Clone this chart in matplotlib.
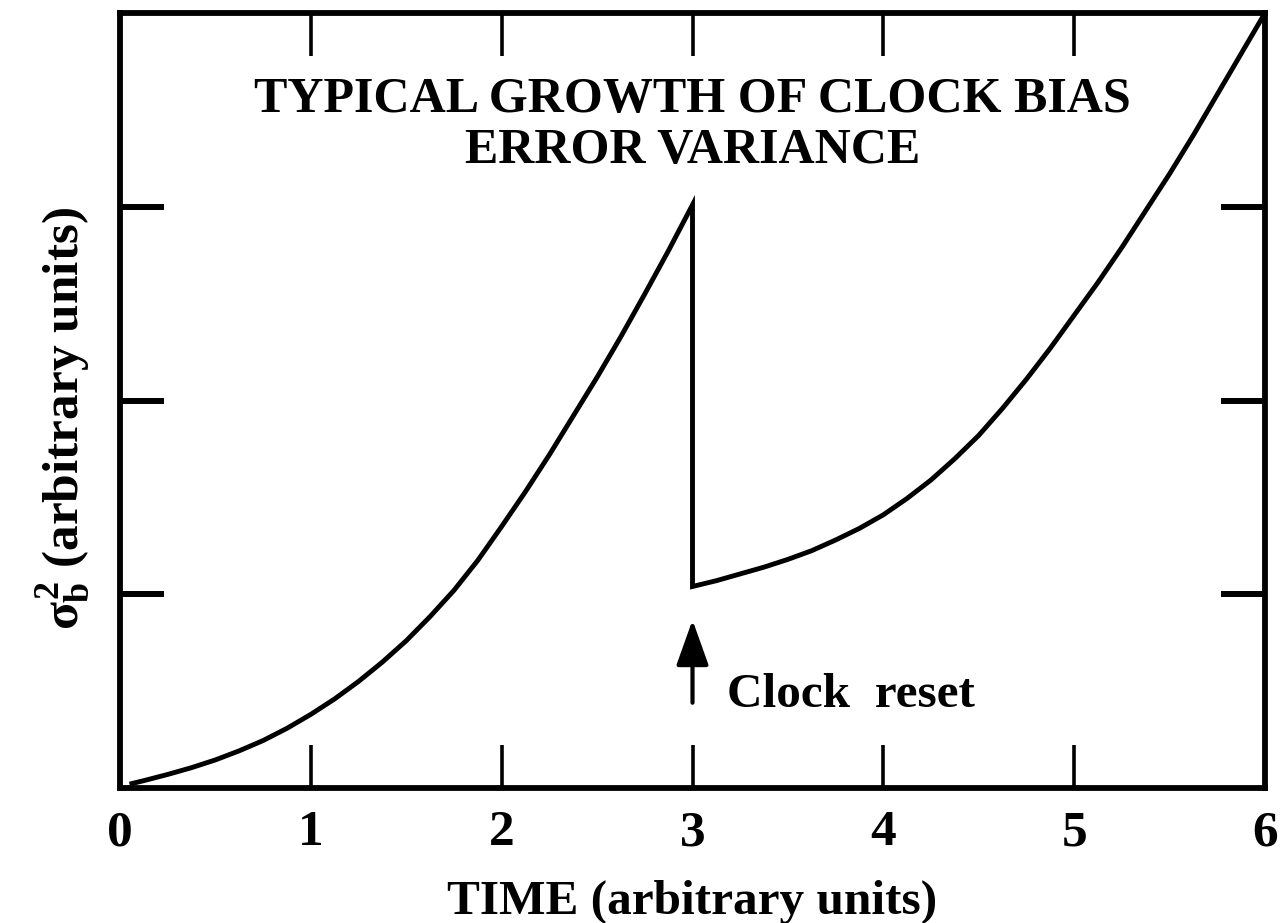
import matplotlib
matplotlib.use("Agg")
import matplotlib.pyplot as plt
from matplotlib.ticker import FixedLocator

plt.rcParams['font.family'] = ['Liberation Serif', 'DejaVu Serif']
plt.rcParams['font.weight'] = 'bold'
plt.rcParams['axes.labelweight'] = 'bold'
plt.rcParams['mathtext.fontset'] = 'custom'
plt.rcParams['mathtext.rm'] = 'Liberation Serif:bold'
plt.rcParams['mathtext.it'] = 'Liberation Serif:bold'
plt.rcParams['mathtext.bf'] = 'Liberation Serif:bold'

# Variance before the clock reset
time_before = [0.05, 0.125, 0.25, 0.375, 0.5, 0.625, 0.75, 0.875, 1.0, 1.125,
               1.25, 1.375, 1.5, 1.625, 1.75, 1.875, 2.0, 2.125, 2.25, 2.375,
               2.5, 2.625, 2.75, 2.875, 3.0]
var_before = [0.02, 0.038, 0.07, 0.105, 0.145, 0.192, 0.245, 0.308, 0.38, 0.46,
              0.55, 0.65, 0.76, 0.885, 1.02, 1.175, 1.35, 1.53, 1.72, 1.92,
              2.12, 2.33, 2.55, 2.775, 3.01]

# Variance after the clock reset
time_after = [3.0, 3.125, 3.25, 3.375, 3.5, 3.625, 3.75, 3.875, 4.0, 4.125,
              4.25, 4.375, 4.5, 4.625, 4.75, 4.875, 5.0, 5.125, 5.25, 5.375,
              5.5, 5.625, 5.75, 5.875, 6.0]
var_after = [1.04, 1.07, 1.105, 1.14, 1.18, 1.225, 1.28, 1.34, 1.41, 1.495,
             1.59, 1.70, 1.82, 1.96, 2.11, 2.27, 2.44, 2.61, 2.79, 2.98,
             3.17, 3.37, 3.58, 3.79, 4.0]

x_ticks = [0, 1, 2, 3, 4, 5, 6]
x_tick_labels = ['0', '1', '2', '3', '4', '5', '6']
y_ticks = [1, 2, 3]

reset_time = 3.0
title_lines = ['TYPICAL GROWTH OF CLOCK BIAS', 'ERROR VARIANCE']

fig = plt.figure(figsize=(12.83, 9.23), dpi=100)
ax = fig.add_axes([120 / 1283, 1 - 788 / 923, 1145 / 1283, 775 / 923])

ax.plot(time_before + time_after, var_before + var_after, color='black',
        lw=3.5, solid_joinstyle='miter', solid_capstyle='butt', clip_on=False)

ax.set_xlim(0, 6)
ax.set_ylim(0, 4)

for side in ax.spines.values():
    side.set_linewidth(4.2)

ax.xaxis.set_major_locator(FixedLocator(x_ticks))
ax.set_xticklabels(x_tick_labels)
ax.yaxis.set_major_locator(FixedLocator(y_ticks))
ax.tick_params(axis='x', which='major', direction='in', length=31, width=2.6,
               top=True, bottom=True, labelsize=37, pad=16)
ax.tick_params(axis='y', which='major', direction='in', length=32, width=4.3,
               left=True, right=True, labelleft=False)
# the end ticks would sit on the left/right frame
for t in ax.xaxis.get_major_ticks():
    if t.get_loc() in (0, 6):
        t.tick1line.set_visible(False)
        t.tick2line.set_visible(False)

ax.set_xlabel('TIME (arbitrary units)', fontsize=35.5, fontweight='bold', labelpad=17)
ax.set_ylabel(r'$\sigma_{b}^{2}$ (arbitrary units)', fontsize=37, fontweight='bold')
ax.yaxis.set_label_coords(-0.024, 0.477)

ax.text(3.0, 3.49, title_lines[0], ha='center', va='baseline', fontsize=36)
ax.text(3.0, 3.226, title_lines[1], ha='center', va='baseline', fontsize=36)

ax.annotate('', xy=(reset_time, 0.867), xytext=(reset_time, 0.44),
            arrowprops=dict(arrowstyle='-|>,head_length=1.4,head_width=0.5',
                            mutation_scale=20, lw=3, color='black',
                            shrinkA=0, shrinkB=0))
ax.text(3.18, 0.42, 'Clock  reset', ha='left', va='baseline', fontsize=35.5)

fig.savefig('out.png', dpi=100)
